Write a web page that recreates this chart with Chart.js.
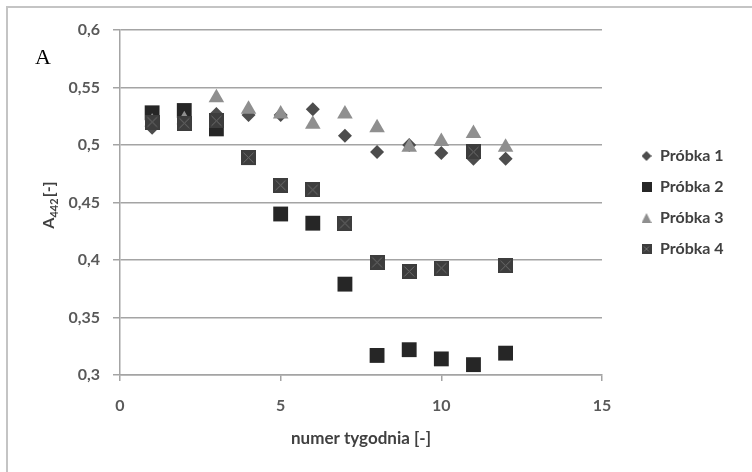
<!DOCTYPE html>
<html>
<head>
<meta charset="utf-8">
<script src="https://cdn.jsdelivr.net/npm/chart.js@4/dist/chart.umd.min.js"></script>
<style>
  html, body { margin: 0; padding: 0; background: #fff; overflow: hidden; }
  #wrap { position: relative; width: 752px; height: 472px; overflow: hidden; }
  #frame { position: absolute; left: 6px; top: 6px; width: 800px; height: 520px; border: 2px solid #c4c4c4; box-sizing: border-box; }
  canvas { position: absolute; left: 0; top: 0; }
</style>
</head>
<body>
<div id="wrap">
  <div id="frame"></div>
  <canvas id="chart" width="752" height="472"></canvas>
</div>
<script>
// data
const weeks = [1, 2, 3, 4, 5, 6, 7, 8, 9, 10, 11, 12];
const probka1 = [0.515, 0.520, 0.527, 0.526, 0.526, 0.531, 0.508, 0.494, 0.500, 0.493, 0.488, 0.488];
const probka2 = [0.528, 0.530, 0.514, 0.489, 0.440, 0.432, 0.379, 0.317, 0.322, 0.314, 0.309, 0.319];
const probka3 = [0.520, 0.522, 0.541, 0.531, 0.527, 0.518, 0.527, 0.515, 0.498, 0.503, 0.510, 0.498];
const probka4 = [0.520, 0.519, 0.521, 0.489, 0.465, 0.461, 0.432, 0.398, 0.390, 0.393, 0.494, 0.395];
const seriesNames = ['Próbka 1', 'Próbka 2', 'Próbka 3', 'Próbka 4'];
const yTickLabels = ['0,3', '0,35', '0,4', '0,45', '0,5', '0,55', '0,6'];
const xTickLabels = ['0', '5', '10', '15'];
const xTitle = 'numer tygodnia [-]';
const yTitle = ['A', '442', '[-]'];
const panelLabel = 'A';

const toPoints = (ys) => weeks.map((w, i) => ({ x: w, y: ys[i] }));

function marker(size, draw) {
  const c = document.createElement('canvas');
  c.width = size;
  c.height = size;
  draw(c.getContext('2d'), size);
  return c;
}

function crossSquare(fill, cross) {
  return (g, s) => {
    g.fillStyle = fill;
    g.fillRect(0, 0, s, s);
    g.strokeStyle = cross;
    g.lineWidth = 1;
    g.beginPath();
    g.moveTo(2.5, 2.5); g.lineTo(s - 2.5, s - 2.5);
    g.moveTo(s - 2.5, 2.5); g.lineTo(2.5, s - 2.5);
    g.stroke();
  };
}

const p4Point = marker(15, crossSquare('#3d3d3d', '#6c6c6c'));

const legendMarkers = [
  marker(10, (g, s) => {
    g.fillStyle = '#4d4d4d';
    g.beginPath();
    g.moveTo(s / 2, 0); g.lineTo(s, s / 2); g.lineTo(s / 2, s); g.lineTo(0, s / 2);
    g.closePath(); g.fill();
  }),
  marker(10, (g, s) => { g.fillStyle = '#262626'; g.fillRect(0, 0, s, s); }),
  marker(10, (g, s) => {
    g.fillStyle = '#8f8f8f';
    g.beginPath();
    g.moveTo(s / 2, 0); g.lineTo(s, s); g.lineTo(0, s);
    g.closePath(); g.fill();
  }),
  marker(10, crossSquare('#3d3d3d', '#6c6c6c'))
];

const axisFont = { family: 'Lato', size: 16, weight: 'bold' };
const gridColor = '#a4a4a4';

const layoutFix = {
  id: 'layoutFix',
  beforeLayout(chart) {
    const lg = chart.legend;
    if (lg && !lg._fixed) {
      const fit = lg.fit.bind(lg);
      lg.fit = function () { fit(); this.width = 150; };
      lg._fixed = true;
    }
  },
  afterLayout(chart) {
    const lg = chart.legend;
    const w = lg.width;
    lg.left = 626;
    lg.right = 626 + w;
  },
  afterDraw(chart) {
    const ctx = chart.ctx;
    ctx.save();
    ctx.fillStyle = '#000';
    ctx.font = '22px "Liberation Serif"';
    ctx.textBaseline = 'alphabetic';
    ctx.textAlign = 'left';
    ctx.fillText(panelLabel, 35, 64);

    ctx.translate(54, 205);
    ctx.rotate(-Math.PI / 2);
    ctx.fillStyle = '#404040';
    const big = 'bold 16px Lato';
    const small = 'bold 11px Lato';
    ctx.font = big;
    const wA = ctx.measureText(yTitle[0]).width;
    const wU = ctx.measureText(yTitle[2]).width;
    ctx.font = small;
    const wS = ctx.measureText(yTitle[1]).width;
    let x = -(wA + wS + wU + 1) / 2;
    ctx.font = big;
    ctx.fillText(yTitle[0], x, 0);
    x += wA;
    ctx.font = small;
    ctx.fillText(yTitle[1], x, 4);
    x += wS + 1;
    ctx.font = big;
    ctx.fillText(yTitle[2], x, 0);
    ctx.restore();
  }
};

new Chart(document.getElementById('chart'), {
  type: 'scatter',
  data: {
    datasets: [
      { label: seriesNames[0], data: toPoints(probka1), pointStyle: 'rectRot', pointRadius: 7,
        backgroundColor: '#4d4d4d', borderColor: '#4d4d4d', borderWidth: 0, order: 3 },
      { label: seriesNames[1], data: toPoints(probka2), pointStyle: 'rect', pointRadius: 10.5,
        backgroundColor: '#262626', borderColor: '#262626', borderWidth: 0, order: 2 },
      { label: seriesNames[2], data: toPoints(probka3), pointStyle: 'triangle', pointRadius: 9,
        backgroundColor: '#8f8f8f', borderColor: '#8f8f8f', borderWidth: 0, order: 1 },
      { label: seriesNames[3], data: toPoints(probka4), pointStyle: p4Point, pointRadius: 7.5,
        backgroundColor: '#3d3d3d', borderColor: '#3d3d3d', borderWidth: 0, order: 0 }
    ]
  },
  options: {
    responsive: false,
    animation: false,
    events: [],
    layout: { padding: { top: 30, left: 0, right: 0, bottom: 0 } },
    plugins: {
      tooltip: { enabled: false },
      legend: {
        position: 'right',
        fullSize: false,
        labels: {
          usePointStyle: true,
          boxWidth: 11,
          boxHeight: 10,
          padding: 15,
          color: '#404040',
          font: { family: 'Lato', size: 16, weight: 'bold' },
          sort: (a, b) => a.datasetIndex - b.datasetIndex,
          generateLabels(chart) {
            const items = Chart.defaults.plugins.legend.labels.generateLabels(chart);
            items.forEach(it => { it.pointStyle = legendMarkers[it.datasetIndex]; });
            return items;
          }
        }
      }
    },
    scales: {
      x: {
        type: 'linear',
        min: 0,
        max: 15,
        afterFit(scale) { scale.height = 97; scale.paddingLeft = 0; scale.paddingRight = 0; },
        ticks: {
          stepSize: 5,
          padding: 15,
          color: '#595959',
          font: axisFont,
          maxRotation: 0,
          callback: (v, i) => xTickLabels[i]
        },
        grid: { drawOnChartArea: false, drawTicks: true, tickLength: 6, color: gridColor, lineWidth: 1.5 },
        border: { color: gridColor, width: 1.5 },
        title: {
          display: true,
          text: xTitle,
          color: '#404040',
          font: { family: 'Lato', size: 17, weight: 'bold' },
          padding: { top: 0, bottom: 23 }
        }
      },
      y: {
        min: 0.3,
        max: 0.6,
        afterFit(scale) { scale.width = 120; scale.paddingTop = 0; scale.paddingBottom = 0; },
        ticks: {
          stepSize: 0.05,
          padding: 13,
          color: '#595959',
          font: axisFont,
          callback: (v, i) => yTickLabels[i]
        },
        grid: { color: gridColor, lineWidth: 1.5, tickLength: 7 },
        border: { color: gridColor, width: 1.5 }
      }
    }
  },
  plugins: [layoutFix]
});
</script>
</body>
</html>
